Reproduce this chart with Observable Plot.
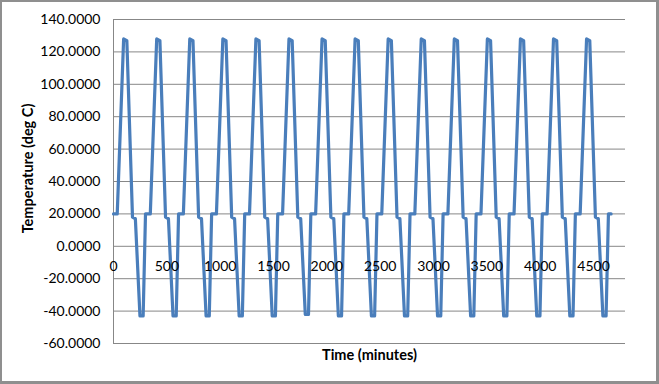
<!DOCTYPE html>
<html>
<head>
<meta charset="utf-8">
<script src="https://cdn.jsdelivr.net/npm/d3@7"></script>
<script src="https://cdn.jsdelivr.net/npm/@observablehq/plot@0.6"></script>
<style>
  html, body { margin: 0; padding: 0; background: #fff; }
  #wrap { position: relative; width: 659px; height: 384px; overflow: hidden; }
  #frame { position: absolute; left: 0; top: 0; width: 659px; height: 384px; box-sizing: border-box;
           border: 2px solid #8f8f8f; border-right-width: 3px; border-bottom-width: 3px; pointer-events: none; }
</style>
</head>
<body>
<div id="wrap"><div id="chart"></div><div id="frame"></div></div>
<script>
// Time in minutes
const time = [
  0, 35, 95, 125, 178, 205, 248, 278, 300,
  310, 345, 405, 435, 488, 515, 558, 588, 610,
  620, 655, 715, 745, 798, 825, 868, 898, 920,
  930, 965, 1025, 1055, 1108, 1135, 1178, 1208, 1230,
  1240, 1275, 1335, 1365, 1418, 1445, 1488, 1518, 1540,
  1550, 1585, 1645, 1675, 1728, 1755, 1798, 1828, 1850,
  1860, 1895, 1955, 1985, 2038, 2065, 2108, 2138, 2160,
  2170, 2205, 2265, 2295, 2348, 2375, 2418, 2448, 2470,
  2480, 2515, 2575, 2605, 2658, 2685, 2728, 2758, 2780,
  2790, 2825, 2885, 2915, 2968, 2995, 3038, 3068, 3090,
  3100, 3135, 3195, 3225, 3278, 3305, 3348, 3378, 3400,
  3410, 3445, 3505, 3535, 3588, 3615, 3658, 3688, 3710,
  3720, 3755, 3815, 3845, 3898, 3925, 3968, 3998, 4020,
  4030, 4065, 4125, 4155, 4208, 4235, 4278, 4308, 4330,
  4340, 4375, 4435, 4465, 4518, 4545, 4588, 4618, 4640,
  4665
];
// Temperature in deg C
const temp = [
  20, 20, 128, 127, 18, 17, -43, -43, 20,
  20, 20, 128, 127, 18, 17, -43, -43, 20,
  20, 20, 128, 127, 18, 17, -43, -43, 20,
  20, 20, 128, 127, 18, 17, -43, -43, 20,
  20, 20, 128, 127, 18, 17, -43, -43, 20,
  20, 20, 128, 127, 18, 17, -42, -42, 20,
  20, 20, 128, 127, 18, 17, -43, -43, 20,
  20, 20, 128, 127, 18, 17, -43, -43, 20,
  20, 20, 128, 127, 18, 17, -43, -43, 20,
  20, 20, 128, 127, 18, 17, -43, -43, 20,
  20, 20, 128, 127, 18, 17, -43, -43, 20,
  20, 20, 128, 127, 18, 17, -43, -43, 20,
  20, 20, 128, 127, 18, 17, -43, -43, 20,
  20, 20, 128, 127, 18, 17, -43, -43, 20,
  20, 20, 128, 127, 18, 17, -43, -43, 20,
  20
];
const xTicks = [0, 500, 1000, 1500, 2000, 2500, 3000, 3500, 4000, 4500];
const yTicks = [-60, -40, -20, 0, 20, 40, 60, 80, 100, 120, 140];
const xTitle = "Time (minutes)";
const yTitle = "Temperature (deg C)";

const data = time.map((t, i) => ({t, v: temp[i]}));

const chart = Plot.plot({
  width: 659,
  height: 384,
  marginLeft: 113,
  marginRight: 34,
  marginTop: 19,
  marginBottom: 41,
  x: {domain: [0, 4800], axis: null},
  y: {domain: [-60, 140]},
  style: {fontFamily: "Lato, 'Open Sans', sans-serif", fontSize: "14px", color: "#000", background: "transparent"},
  marks: [
    Plot.ruleY(yTicks, {stroke: "#878787", strokeWidth: 1}),
    Plot.ruleX([0], {stroke: "#878787", strokeWidth: 1}),
    Plot.line(data, {x: "t", y: "v", stroke: "#4a7ebb", strokeWidth: 3.2, strokeLinejoin: "round", strokeLinecap: "round"}),
    Plot.text(xTicks, {x: d => d, y: 0, dy: 20, text: d => String(d), fill: "#000", fontSize: 14}),
    Plot.axisY(yTicks, {tickSize: 0, tickPadding: 13, tickFormat: d => d.toFixed(4), label: null, fill: "#000", fontSize: 14}),
    Plot.text([yTitle], {frameAnchor: "left", dx: -85, dy: -13, rotate: -90, text: d => d, fontWeight: "bold", fontSize: 14.5, textAnchor: "middle", lineAnchor: "middle"}),
    Plot.text([xTitle], {frameAnchor: "bottom", dy: 12, text: d => d, fontWeight: "bold", fontSize: 14.5, textAnchor: "middle", lineAnchor: "middle"})
  ]
});
document.getElementById("chart").appendChild(chart);
</script>
</body>
</html>
